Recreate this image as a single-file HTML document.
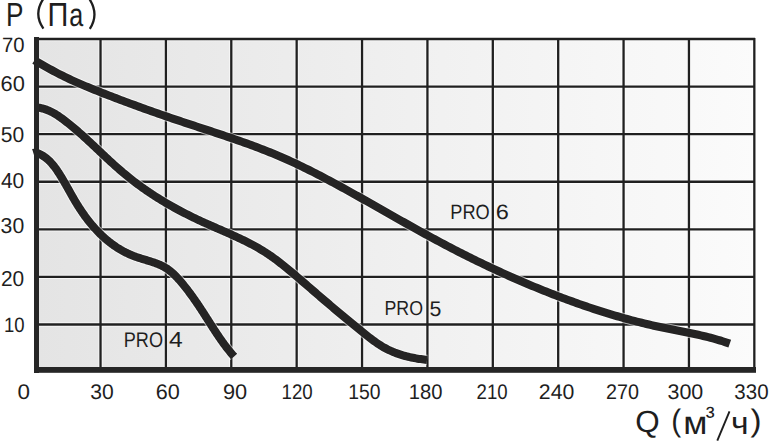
<!DOCTYPE html>
<html><head><meta charset="utf-8"><style>
html,body{margin:0;padding:0;background:#fff;width:769px;height:443px;overflow:hidden}
svg{display:block}
text{font-family:"Liberation Sans",sans-serif;font-size:40px;fill:#1e1e1e;stroke-width:0;text-rendering:geometricPrecision}
</style></head><body>
<svg width="769" height="443" viewBox="0 0 769 443">
<defs><linearGradient id="bg" x1="0" y1="0" x2="1" y2="0">
<stop offset="0" stop-color="#e4e4e4"/><stop offset="1" stop-color="#fbfbfb"/></linearGradient></defs>
<rect x="36" y="39" width="718" height="331" fill="url(#bg)"/>
<g stroke="#fff" stroke-opacity="0.6"><g stroke-width="4.3"><line x1="100.53" y1="38" x2="100.53" y2="370"/><line x1="165.91" y1="38" x2="165.91" y2="370"/><line x1="231.29" y1="38" x2="231.29" y2="370"/><line x1="296.67" y1="38" x2="296.67" y2="370"/><line x1="362.05" y1="38" x2="362.05" y2="370"/><line x1="427.43" y1="38" x2="427.43" y2="370"/><line x1="492.81" y1="38" x2="492.81" y2="370"/><line x1="558.19" y1="38" x2="558.19" y2="370"/><line x1="623.57" y1="38" x2="623.57" y2="370"/><line x1="688.95" y1="38" x2="688.95" y2="370"/><line x1="754.33" y1="38" x2="754.33" y2="370"/></g><g stroke-width="4.3"><line x1="36" y1="39.00" x2="755" y2="39.00"/><line x1="36" y1="86.58" x2="755" y2="86.58"/><line x1="36" y1="134.16" x2="755" y2="134.16"/><line x1="36" y1="181.74" x2="755" y2="181.74"/><line x1="36" y1="229.32" x2="755" y2="229.32"/><line x1="36" y1="276.90" x2="755" y2="276.90"/><line x1="36" y1="324.48" x2="755" y2="324.48"/></g></g>
<g stroke="#202020"><g stroke-width="2.3"><line x1="100.53" y1="38" x2="100.53" y2="370"/><line x1="165.91" y1="38" x2="165.91" y2="370"/><line x1="231.29" y1="38" x2="231.29" y2="370"/><line x1="296.67" y1="38" x2="296.67" y2="370"/><line x1="362.05" y1="38" x2="362.05" y2="370"/><line x1="427.43" y1="38" x2="427.43" y2="370"/><line x1="492.81" y1="38" x2="492.81" y2="370"/><line x1="558.19" y1="38" x2="558.19" y2="370"/><line x1="623.57" y1="38" x2="623.57" y2="370"/><line x1="688.95" y1="38" x2="688.95" y2="370"/><line x1="754.33" y1="38" x2="754.33" y2="370"/></g><g stroke-width="2.3"><line x1="36" y1="39.00" x2="755" y2="39.00"/><line x1="36" y1="86.58" x2="755" y2="86.58"/><line x1="36" y1="134.16" x2="755" y2="134.16"/><line x1="36" y1="181.74" x2="755" y2="181.74"/><line x1="36" y1="229.32" x2="755" y2="229.32"/><line x1="36" y1="276.90" x2="755" y2="276.90"/><line x1="36" y1="324.48" x2="755" y2="324.48"/></g></g>
<g fill="none" stroke="#fff" stroke-opacity="0.6" stroke-width="10.1" stroke-linecap="butt" stroke-linejoin="round">
<path d="M36.07,61.16 L38.25,62.43 L40.43,63.70 L42.62,64.96 L44.80,66.21 L47.00,67.45 L49.19,68.68 L51.40,69.90 L53.61,71.10 L55.83,72.29 L58.05,73.46 L60.29,74.61 L62.53,75.74 L64.79,76.85 L67.05,77.95 L69.32,79.02 L71.60,80.08 L73.89,81.12 L76.18,82.14 L78.48,83.15 L80.79,84.15 L83.10,85.14 L85.41,86.11 L87.74,87.08 L90.06,88.03 L92.39,88.98 L94.72,89.92 L97.06,90.85 L99.39,91.78 L101.73,92.70 L104.07,93.61 L106.41,94.53 L108.76,95.44 L111.10,96.34 L113.45,97.24 L115.80,98.14 L118.14,99.03 L120.50,99.92 L122.85,100.81 L125.20,101.69 L127.56,102.57 L129.91,103.44 L132.27,104.31 L134.63,105.17 L136.99,106.04 L139.35,106.89 L141.72,107.75 L144.08,108.60 L146.45,109.45 L148.82,110.29 L151.19,111.13 L153.56,111.97 L155.93,112.80 L158.31,113.63 L160.69,114.46 L163.06,115.28 L165.44,116.10 L167.82,116.92 L170.20,117.73 L172.59,118.54 L174.97,119.35 L177.36,120.15 L179.74,120.95 L182.13,121.75 L184.52,122.55 L186.92,123.34 L189.31,124.13 L191.70,124.92 L194.10,125.70 L196.49,126.49 L198.88,127.28 L201.28,128.06 L203.67,128.85 L206.07,129.63 L208.46,130.42 L210.86,131.21 L213.25,132.00 L215.64,132.79 L218.04,133.59 L220.43,134.38 L222.82,135.18 L225.20,135.99 L227.59,136.79 L229.97,137.60 L232.36,138.42 L234.74,139.24 L237.12,140.07 L239.49,140.90 L241.87,141.73 L244.24,142.58 L246.60,143.43 L248.97,144.29 L251.33,145.15 L253.69,146.02 L256.04,146.90 L258.39,147.79 L260.74,148.69 L263.09,149.60 L265.42,150.51 L267.76,151.44 L270.09,152.38 L272.42,153.32 L274.74,154.28 L277.05,155.25 L279.36,156.23 L281.67,157.23 L283.97,158.23 L286.27,159.25 L288.56,160.28 L290.84,161.32 L293.12,162.37 L295.40,163.43 L297.67,164.50 L299.94,165.58 L302.20,166.67 L304.46,167.77 L306.72,168.88 L308.97,170.00 L311.21,171.12 L313.46,172.26 L315.70,173.40 L317.94,174.55 L320.17,175.70 L322.40,176.87 L324.63,178.04 L326.85,179.21 L329.07,180.39 L331.29,181.58 L333.51,182.77 L335.72,183.97 L337.93,185.17 L340.14,186.38 L342.35,187.59 L344.55,188.81 L346.76,190.02 L348.96,191.25 L351.16,192.47 L353.35,193.70 L355.55,194.93 L357.75,196.16 L359.94,197.39 L362.13,198.63 L364.33,199.86 L366.52,201.10 L368.71,202.34 L370.90,203.58 L373.09,204.82 L375.28,206.06 L377.47,207.30 L379.66,208.54 L381.84,209.78 L384.03,211.02 L386.22,212.26 L388.41,213.50 L390.60,214.73 L392.79,215.97 L394.97,217.21 L397.16,218.45 L399.35,219.68 L401.54,220.91 L403.74,222.15 L405.93,223.38 L408.12,224.61 L410.32,225.83 L412.51,227.06 L414.71,228.28 L416.91,229.50 L419.11,230.72 L421.31,231.93 L423.51,233.14 L425.71,234.35 L427.92,235.56 L430.13,236.76 L432.34,237.96 L434.55,239.16 L436.76,240.35 L438.98,241.54 L441.20,242.72 L443.42,243.90 L445.64,245.08 L447.87,246.25 L450.10,247.42 L452.33,248.58 L454.56,249.73 L456.80,250.89 L459.04,252.03 L461.28,253.18 L463.53,254.31 L465.78,255.45 L468.03,256.57 L470.28,257.69 L472.54,258.81 L474.80,259.92 L477.06,261.03 L479.33,262.13 L481.60,263.23 L483.87,264.32 L486.14,265.40 L488.42,266.48 L490.70,267.55 L492.98,268.62 L495.26,269.69 L497.55,270.74 L499.84,271.80 L502.13,272.84 L504.43,273.88 L506.72,274.92 L509.02,275.95 L511.32,276.97 L513.63,277.99 L515.94,279.00 L518.25,280.00 L520.56,281.00 L522.87,282.00 L525.19,282.98 L527.51,283.97 L529.83,284.94 L532.15,285.91 L534.48,286.87 L536.81,287.83 L539.14,288.78 L541.47,289.73 L543.81,290.67 L546.15,291.60 L548.49,292.52 L550.83,293.44 L553.17,294.36 L555.52,295.26 L557.87,296.16 L560.22,297.06 L562.57,297.94 L564.93,298.82 L567.29,299.70 L569.65,300.56 L572.01,301.42 L574.38,302.27 L576.74,303.12 L579.11,303.95 L581.48,304.78 L583.86,305.61 L586.24,306.42 L588.61,307.23 L591.00,308.03 L593.38,308.82 L595.77,309.60 L598.16,310.38 L600.55,311.14 L602.94,311.90 L605.34,312.65 L607.74,313.39 L610.14,314.12 L612.55,314.84 L614.96,315.56 L617.37,316.26 L619.78,316.96 L622.20,317.65 L624.61,318.32 L627.04,318.99 L629.46,319.65 L631.89,320.30 L634.32,320.94 L636.75,321.57 L639.19,322.18 L641.63,322.79 L644.07,323.39 L646.52,323.98 L648.97,324.56 L651.42,325.13 L653.87,325.68 L656.33,326.23 L658.79,326.76 L661.25,327.29 L663.72,327.80 L666.19,328.31 L668.66,328.81 L671.14,329.30 L673.61,329.79 L676.08,330.28 L678.56,330.76 L681.03,331.25 L683.51,331.74 L685.98,332.24 L688.45,332.74 L690.92,333.25 L693.39,333.76 L695.85,334.29 L698.31,334.83 L700.77,335.39 L703.22,335.96 L705.67,336.54 L708.11,337.15 L710.54,337.77 L712.97,338.42 L715.40,339.09 L717.81,339.78 L720.22,340.50 L722.62,341.25 L725.02,342.03 L727.40,342.84 L729.77,343.68"/><path d="M35.95,107.44 L37.63,107.59 L39.27,107.81 L40.87,108.10 L42.44,108.46 L43.98,108.88 L45.49,109.35 L46.97,109.88 L48.42,110.47 L49.84,111.10 L51.24,111.78 L52.62,112.50 L53.98,113.26 L55.32,114.05 L56.64,114.87 L57.95,115.72 L59.24,116.60 L60.52,117.50 L61.79,118.41 L63.05,119.34 L64.30,120.28 L65.54,121.23 L66.78,122.19 L68.01,123.16 L69.24,124.13 L70.46,125.12 L71.67,126.11 L72.88,127.11 L74.09,128.11 L75.28,129.13 L76.48,130.15 L77.67,131.18 L78.85,132.21 L80.03,133.25 L81.21,134.29 L82.39,135.34 L83.56,136.39 L84.72,137.45 L85.89,138.51 L87.05,139.58 L88.21,140.64 L89.37,141.72 L90.53,142.79 L91.68,143.87 L92.83,144.95 L93.99,146.03 L95.14,147.11 L96.29,148.19 L97.44,149.28 L98.59,150.36 L99.74,151.45 L100.89,152.53 L102.04,153.62 L103.19,154.70 L104.34,155.78 L105.50,156.86 L106.65,157.94 L107.81,159.02 L108.97,160.10 L110.13,161.17 L111.29,162.24 L112.46,163.30 L113.63,164.37 L114.80,165.42 L115.98,166.48 L117.16,167.53 L118.34,168.57 L119.53,169.61 L120.72,170.65 L121.92,171.67 L123.12,172.70 L124.33,173.71 L125.54,174.72 L126.76,175.72 L127.98,176.72 L129.21,177.70 L130.44,178.68 L131.68,179.66 L132.92,180.63 L134.17,181.59 L135.43,182.54 L136.68,183.48 L137.95,184.42 L139.22,185.36 L140.49,186.28 L141.77,187.20 L143.05,188.12 L144.34,189.02 L145.63,189.92 L146.93,190.81 L148.23,191.70 L149.54,192.58 L150.85,193.46 L152.16,194.32 L153.48,195.18 L154.81,196.04 L156.13,196.89 L157.46,197.73 L158.80,198.56 L160.14,199.39 L161.48,200.22 L162.83,201.03 L164.18,201.85 L165.54,202.65 L166.90,203.45 L168.26,204.24 L169.62,205.03 L170.99,205.81 L172.37,206.59 L173.74,207.36 L175.12,208.12 L176.50,208.88 L177.89,209.63 L179.28,210.38 L180.67,211.12 L182.07,211.85 L183.47,212.58 L184.87,213.30 L186.27,214.02 L187.68,214.73 L189.09,215.44 L190.50,216.14 L191.92,216.84 L193.34,217.53 L194.76,218.22 L196.18,218.90 L197.61,219.57 L199.04,220.24 L200.47,220.90 L201.90,221.56 L203.33,222.22 L204.77,222.87 L206.21,223.51 L207.65,224.15 L209.09,224.79 L210.53,225.43 L211.97,226.06 L213.42,226.70 L214.86,227.33 L216.31,227.96 L217.75,228.59 L219.20,229.22 L220.64,229.84 L222.08,230.47 L223.53,231.11 L224.97,231.74 L226.41,232.37 L227.85,233.01 L229.29,233.65 L230.73,234.29 L232.16,234.93 L233.60,235.58 L235.03,236.23 L236.46,236.89 L237.88,237.55 L239.31,238.22 L240.73,238.90 L242.14,239.58 L243.56,240.26 L244.97,240.96 L246.37,241.66 L247.78,242.37 L249.18,243.09 L250.57,243.81 L251.96,244.55 L253.34,245.29 L254.72,246.05 L256.10,246.81 L257.47,247.58 L258.83,248.37 L260.19,249.16 L261.54,249.97 L262.88,250.79 L264.22,251.61 L265.54,252.45 L266.86,253.31 L268.18,254.17 L269.48,255.05 L270.78,255.94 L272.06,256.84 L273.34,257.75 L274.61,258.68 L275.87,259.62 L277.12,260.57 L278.37,261.52 L279.61,262.49 L280.85,263.46 L282.08,264.44 L283.31,265.43 L284.53,266.42 L285.76,267.41 L286.98,268.41 L288.19,269.41 L289.41,270.41 L290.62,271.41 L291.83,272.42 L293.04,273.43 L294.25,274.45 L295.45,275.46 L296.66,276.48 L297.86,277.50 L299.06,278.52 L300.26,279.55 L301.46,280.57 L302.66,281.60 L303.85,282.63 L305.05,283.65 L306.25,284.68 L307.44,285.71 L308.64,286.74 L309.83,287.78 L311.02,288.81 L312.22,289.84 L313.41,290.87 L314.60,291.90 L315.80,292.93 L316.99,293.96 L318.19,294.99 L319.38,296.02 L320.58,297.04 L321.78,298.07 L322.97,299.09 L324.17,300.12 L325.37,301.14 L326.57,302.17 L327.77,303.19 L328.97,304.21 L330.17,305.23 L331.37,306.25 L332.57,307.27 L333.78,308.28 L334.98,309.30 L336.19,310.32 L337.39,311.33 L338.60,312.34 L339.81,313.36 L341.02,314.37 L342.23,315.38 L343.44,316.39 L344.65,317.40 L345.86,318.41 L347.08,319.42 L348.29,320.43 L349.51,321.43 L350.72,322.44 L351.94,323.44 L353.16,324.45 L354.38,325.45 L355.60,326.45 L356.83,327.45 L358.05,328.45 L359.28,329.45 L360.50,330.45 L361.73,331.45 L362.96,332.45 L364.19,333.44 L365.42,334.43 L366.66,335.42 L367.90,336.40 L369.15,337.37 L370.40,338.33 L371.66,339.29 L372.92,340.23 L374.20,341.15 L375.48,342.06 L376.77,342.96 L378.07,343.84 L379.38,344.69 L380.70,345.53 L382.04,346.35 L383.39,347.14 L384.75,347.90 L386.13,348.64 L387.52,349.36 L388.92,350.04 L390.34,350.70 L391.77,351.34 L393.22,351.95 L394.67,352.54 L396.14,353.10 L397.61,353.63 L399.10,354.15 L400.60,354.64 L402.10,355.11 L403.62,355.55 L405.14,355.98 L406.67,356.38 L408.21,356.76 L409.75,357.12 L411.31,357.47 L412.86,357.79 L414.42,358.09 L415.99,358.37 L417.56,358.64 L419.13,358.88 L420.71,359.11 L422.28,359.32 L423.86,359.52 L425.44,359.70 L427.03,359.86"/><path d="M36.05,152.68 L37.01,153.01 L37.96,153.36 L38.88,153.73 L39.78,154.14 L40.66,154.57 L41.52,155.03 L42.37,155.51 L43.19,156.01 L44.00,156.54 L44.79,157.09 L45.56,157.66 L46.32,158.25 L47.06,158.85 L47.79,159.48 L48.50,160.13 L49.19,160.79 L49.88,161.47 L50.55,162.16 L51.20,162.87 L51.85,163.59 L52.48,164.33 L53.10,165.08 L53.71,165.84 L54.32,166.61 L54.91,167.39 L55.49,168.17 L56.06,168.97 L56.63,169.77 L57.18,170.58 L57.73,171.40 L58.28,172.22 L58.81,173.05 L59.35,173.87 L59.87,174.70 L60.39,175.54 L60.91,176.37 L61.42,177.21 L61.93,178.05 L62.43,178.89 L62.93,179.73 L63.43,180.58 L63.93,181.43 L64.42,182.27 L64.91,183.12 L65.39,183.97 L65.88,184.82 L66.36,185.68 L66.84,186.53 L67.32,187.38 L67.80,188.23 L68.28,189.09 L68.76,189.94 L69.24,190.80 L69.71,191.65 L70.19,192.50 L70.67,193.36 L71.15,194.21 L71.63,195.06 L72.12,195.91 L72.60,196.76 L73.09,197.61 L73.58,198.46 L74.07,199.30 L74.56,200.15 L75.06,200.99 L75.56,201.83 L76.07,202.67 L76.58,203.51 L77.09,204.35 L77.60,205.18 L78.13,206.01 L78.65,206.84 L79.18,207.66 L79.71,208.49 L80.25,209.31 L80.79,210.12 L81.34,210.94 L81.89,211.75 L82.44,212.56 L83.00,213.37 L83.57,214.17 L84.14,214.97 L84.71,215.76 L85.28,216.55 L85.87,217.34 L86.45,218.13 L87.04,218.91 L87.64,219.68 L88.24,220.45 L88.84,221.22 L89.45,221.99 L90.06,222.75 L90.68,223.50 L91.30,224.25 L91.93,225.00 L92.56,225.74 L93.20,226.48 L93.84,227.21 L94.49,227.94 L95.14,228.66 L95.80,229.38 L96.46,230.09 L97.12,230.79 L97.79,231.50 L98.47,232.19 L99.15,232.88 L99.84,233.57 L100.53,234.24 L101.22,234.92 L101.92,235.58 L102.63,236.24 L103.34,236.90 L104.06,237.55 L104.78,238.19 L105.51,238.82 L106.24,239.45 L106.97,240.07 L107.72,240.69 L108.46,241.30 L109.22,241.90 L109.97,242.49 L110.74,243.08 L111.51,243.66 L112.28,244.23 L113.06,244.80 L113.84,245.36 L114.63,245.91 L115.43,246.45 L116.23,246.99 L117.04,247.52 L117.85,248.04 L118.67,248.55 L119.49,249.05 L120.32,249.55 L121.16,250.03 L122.00,250.51 L122.84,250.98 L123.69,251.44 L124.55,251.90 L125.41,252.34 L126.28,252.78 L127.16,253.20 L128.04,253.62 L128.92,254.03 L129.82,254.43 L130.71,254.82 L131.62,255.20 L132.53,255.57 L133.44,255.93 L134.37,256.28 L135.29,256.62 L136.23,256.95 L137.17,257.28 L138.11,257.59 L139.06,257.90 L140.01,258.21 L140.96,258.51 L141.92,258.80 L142.87,259.10 L143.83,259.39 L144.79,259.67 L145.75,259.96 L146.71,260.25 L147.67,260.54 L148.63,260.83 L149.58,261.13 L150.53,261.42 L151.48,261.73 L152.43,262.03 L153.37,262.35 L154.31,262.67 L155.24,263.00 L156.16,263.34 L157.08,263.69 L157.99,264.05 L158.89,264.42 L159.79,264.81 L160.68,265.20 L161.56,265.61 L162.42,266.04 L163.28,266.48 L164.13,266.94 L164.96,267.42 L165.79,267.92 L166.60,268.43 L167.40,268.97 L168.18,269.52 L168.96,270.09 L169.72,270.68 L170.48,271.28 L171.22,271.90 L171.95,272.53 L172.68,273.17 L173.39,273.83 L174.10,274.50 L174.80,275.18 L175.49,275.88 L176.17,276.58 L176.85,277.29 L177.52,278.00 L178.18,278.73 L178.84,279.46 L179.49,280.20 L180.14,280.94 L180.78,281.69 L181.42,282.44 L182.05,283.19 L182.68,283.94 L183.31,284.70 L183.93,285.46 L184.55,286.23 L185.16,287.00 L185.78,287.77 L186.38,288.54 L186.99,289.32 L187.59,290.09 L188.19,290.87 L188.78,291.66 L189.37,292.44 L189.96,293.23 L190.54,294.02 L191.13,294.81 L191.70,295.61 L192.28,296.40 L192.85,297.20 L193.42,298.00 L193.99,298.80 L194.55,299.61 L195.12,300.41 L195.67,301.22 L196.23,302.03 L196.79,302.84 L197.34,303.65 L197.89,304.46 L198.43,305.27 L198.98,306.09 L199.52,306.90 L200.06,307.72 L200.60,308.54 L201.14,309.36 L201.68,310.18 L202.21,311.00 L202.74,311.82 L203.27,312.64 L203.80,313.46 L204.33,314.29 L204.86,315.11 L205.39,315.93 L205.91,316.76 L206.44,317.58 L206.96,318.40 L207.48,319.23 L208.01,320.05 L208.53,320.88 L209.05,321.70 L209.58,322.52 L210.10,323.35 L210.63,324.17 L211.15,324.99 L211.68,325.81 L212.20,326.63 L212.73,327.45 L213.26,328.27 L213.79,329.09 L214.32,329.90 L214.85,330.72 L215.38,331.53 L215.92,332.35 L216.46,333.16 L217.00,333.97 L217.54,334.78 L218.08,335.59 L218.63,336.39 L219.18,337.20 L219.73,338.00 L220.29,338.80 L220.84,339.60 L221.40,340.40 L221.97,341.19 L222.53,341.98 L223.11,342.77 L223.68,343.56 L224.26,344.35 L224.84,345.13 L225.43,345.91 L226.02,346.69 L226.61,347.47 L227.21,348.24 L227.81,349.01 L228.42,349.77 L229.04,350.54 L229.65,351.30 L230.28,352.06 L230.91,352.81 L231.54,353.56 L232.18,354.31 L232.82,355.05 L233.48,355.80 L234.13,356.53"/>
</g>
<g fill="none" stroke="#252424" stroke-width="8.1" stroke-linecap="butt" stroke-linejoin="round">
<path d="M36.07,61.16 L38.25,62.43 L40.43,63.70 L42.62,64.96 L44.80,66.21 L47.00,67.45 L49.19,68.68 L51.40,69.90 L53.61,71.10 L55.83,72.29 L58.05,73.46 L60.29,74.61 L62.53,75.74 L64.79,76.85 L67.05,77.95 L69.32,79.02 L71.60,80.08 L73.89,81.12 L76.18,82.14 L78.48,83.15 L80.79,84.15 L83.10,85.14 L85.41,86.11 L87.74,87.08 L90.06,88.03 L92.39,88.98 L94.72,89.92 L97.06,90.85 L99.39,91.78 L101.73,92.70 L104.07,93.61 L106.41,94.53 L108.76,95.44 L111.10,96.34 L113.45,97.24 L115.80,98.14 L118.14,99.03 L120.50,99.92 L122.85,100.81 L125.20,101.69 L127.56,102.57 L129.91,103.44 L132.27,104.31 L134.63,105.17 L136.99,106.04 L139.35,106.89 L141.72,107.75 L144.08,108.60 L146.45,109.45 L148.82,110.29 L151.19,111.13 L153.56,111.97 L155.93,112.80 L158.31,113.63 L160.69,114.46 L163.06,115.28 L165.44,116.10 L167.82,116.92 L170.20,117.73 L172.59,118.54 L174.97,119.35 L177.36,120.15 L179.74,120.95 L182.13,121.75 L184.52,122.55 L186.92,123.34 L189.31,124.13 L191.70,124.92 L194.10,125.70 L196.49,126.49 L198.88,127.28 L201.28,128.06 L203.67,128.85 L206.07,129.63 L208.46,130.42 L210.86,131.21 L213.25,132.00 L215.64,132.79 L218.04,133.59 L220.43,134.38 L222.82,135.18 L225.20,135.99 L227.59,136.79 L229.97,137.60 L232.36,138.42 L234.74,139.24 L237.12,140.07 L239.49,140.90 L241.87,141.73 L244.24,142.58 L246.60,143.43 L248.97,144.29 L251.33,145.15 L253.69,146.02 L256.04,146.90 L258.39,147.79 L260.74,148.69 L263.09,149.60 L265.42,150.51 L267.76,151.44 L270.09,152.38 L272.42,153.32 L274.74,154.28 L277.05,155.25 L279.36,156.23 L281.67,157.23 L283.97,158.23 L286.27,159.25 L288.56,160.28 L290.84,161.32 L293.12,162.37 L295.40,163.43 L297.67,164.50 L299.94,165.58 L302.20,166.67 L304.46,167.77 L306.72,168.88 L308.97,170.00 L311.21,171.12 L313.46,172.26 L315.70,173.40 L317.94,174.55 L320.17,175.70 L322.40,176.87 L324.63,178.04 L326.85,179.21 L329.07,180.39 L331.29,181.58 L333.51,182.77 L335.72,183.97 L337.93,185.17 L340.14,186.38 L342.35,187.59 L344.55,188.81 L346.76,190.02 L348.96,191.25 L351.16,192.47 L353.35,193.70 L355.55,194.93 L357.75,196.16 L359.94,197.39 L362.13,198.63 L364.33,199.86 L366.52,201.10 L368.71,202.34 L370.90,203.58 L373.09,204.82 L375.28,206.06 L377.47,207.30 L379.66,208.54 L381.84,209.78 L384.03,211.02 L386.22,212.26 L388.41,213.50 L390.60,214.73 L392.79,215.97 L394.97,217.21 L397.16,218.45 L399.35,219.68 L401.54,220.91 L403.74,222.15 L405.93,223.38 L408.12,224.61 L410.32,225.83 L412.51,227.06 L414.71,228.28 L416.91,229.50 L419.11,230.72 L421.31,231.93 L423.51,233.14 L425.71,234.35 L427.92,235.56 L430.13,236.76 L432.34,237.96 L434.55,239.16 L436.76,240.35 L438.98,241.54 L441.20,242.72 L443.42,243.90 L445.64,245.08 L447.87,246.25 L450.10,247.42 L452.33,248.58 L454.56,249.73 L456.80,250.89 L459.04,252.03 L461.28,253.18 L463.53,254.31 L465.78,255.45 L468.03,256.57 L470.28,257.69 L472.54,258.81 L474.80,259.92 L477.06,261.03 L479.33,262.13 L481.60,263.23 L483.87,264.32 L486.14,265.40 L488.42,266.48 L490.70,267.55 L492.98,268.62 L495.26,269.69 L497.55,270.74 L499.84,271.80 L502.13,272.84 L504.43,273.88 L506.72,274.92 L509.02,275.95 L511.32,276.97 L513.63,277.99 L515.94,279.00 L518.25,280.00 L520.56,281.00 L522.87,282.00 L525.19,282.98 L527.51,283.97 L529.83,284.94 L532.15,285.91 L534.48,286.87 L536.81,287.83 L539.14,288.78 L541.47,289.73 L543.81,290.67 L546.15,291.60 L548.49,292.52 L550.83,293.44 L553.17,294.36 L555.52,295.26 L557.87,296.16 L560.22,297.06 L562.57,297.94 L564.93,298.82 L567.29,299.70 L569.65,300.56 L572.01,301.42 L574.38,302.27 L576.74,303.12 L579.11,303.95 L581.48,304.78 L583.86,305.61 L586.24,306.42 L588.61,307.23 L591.00,308.03 L593.38,308.82 L595.77,309.60 L598.16,310.38 L600.55,311.14 L602.94,311.90 L605.34,312.65 L607.74,313.39 L610.14,314.12 L612.55,314.84 L614.96,315.56 L617.37,316.26 L619.78,316.96 L622.20,317.65 L624.61,318.32 L627.04,318.99 L629.46,319.65 L631.89,320.30 L634.32,320.94 L636.75,321.57 L639.19,322.18 L641.63,322.79 L644.07,323.39 L646.52,323.98 L648.97,324.56 L651.42,325.13 L653.87,325.68 L656.33,326.23 L658.79,326.76 L661.25,327.29 L663.72,327.80 L666.19,328.31 L668.66,328.81 L671.14,329.30 L673.61,329.79 L676.08,330.28 L678.56,330.76 L681.03,331.25 L683.51,331.74 L685.98,332.24 L688.45,332.74 L690.92,333.25 L693.39,333.76 L695.85,334.29 L698.31,334.83 L700.77,335.39 L703.22,335.96 L705.67,336.54 L708.11,337.15 L710.54,337.77 L712.97,338.42 L715.40,339.09 L717.81,339.78 L720.22,340.50 L722.62,341.25 L725.02,342.03 L727.40,342.84 L729.77,343.68"/><path d="M35.95,107.44 L37.63,107.59 L39.27,107.81 L40.87,108.10 L42.44,108.46 L43.98,108.88 L45.49,109.35 L46.97,109.88 L48.42,110.47 L49.84,111.10 L51.24,111.78 L52.62,112.50 L53.98,113.26 L55.32,114.05 L56.64,114.87 L57.95,115.72 L59.24,116.60 L60.52,117.50 L61.79,118.41 L63.05,119.34 L64.30,120.28 L65.54,121.23 L66.78,122.19 L68.01,123.16 L69.24,124.13 L70.46,125.12 L71.67,126.11 L72.88,127.11 L74.09,128.11 L75.28,129.13 L76.48,130.15 L77.67,131.18 L78.85,132.21 L80.03,133.25 L81.21,134.29 L82.39,135.34 L83.56,136.39 L84.72,137.45 L85.89,138.51 L87.05,139.58 L88.21,140.64 L89.37,141.72 L90.53,142.79 L91.68,143.87 L92.83,144.95 L93.99,146.03 L95.14,147.11 L96.29,148.19 L97.44,149.28 L98.59,150.36 L99.74,151.45 L100.89,152.53 L102.04,153.62 L103.19,154.70 L104.34,155.78 L105.50,156.86 L106.65,157.94 L107.81,159.02 L108.97,160.10 L110.13,161.17 L111.29,162.24 L112.46,163.30 L113.63,164.37 L114.80,165.42 L115.98,166.48 L117.16,167.53 L118.34,168.57 L119.53,169.61 L120.72,170.65 L121.92,171.67 L123.12,172.70 L124.33,173.71 L125.54,174.72 L126.76,175.72 L127.98,176.72 L129.21,177.70 L130.44,178.68 L131.68,179.66 L132.92,180.63 L134.17,181.59 L135.43,182.54 L136.68,183.48 L137.95,184.42 L139.22,185.36 L140.49,186.28 L141.77,187.20 L143.05,188.12 L144.34,189.02 L145.63,189.92 L146.93,190.81 L148.23,191.70 L149.54,192.58 L150.85,193.46 L152.16,194.32 L153.48,195.18 L154.81,196.04 L156.13,196.89 L157.46,197.73 L158.80,198.56 L160.14,199.39 L161.48,200.22 L162.83,201.03 L164.18,201.85 L165.54,202.65 L166.90,203.45 L168.26,204.24 L169.62,205.03 L170.99,205.81 L172.37,206.59 L173.74,207.36 L175.12,208.12 L176.50,208.88 L177.89,209.63 L179.28,210.38 L180.67,211.12 L182.07,211.85 L183.47,212.58 L184.87,213.30 L186.27,214.02 L187.68,214.73 L189.09,215.44 L190.50,216.14 L191.92,216.84 L193.34,217.53 L194.76,218.22 L196.18,218.90 L197.61,219.57 L199.04,220.24 L200.47,220.90 L201.90,221.56 L203.33,222.22 L204.77,222.87 L206.21,223.51 L207.65,224.15 L209.09,224.79 L210.53,225.43 L211.97,226.06 L213.42,226.70 L214.86,227.33 L216.31,227.96 L217.75,228.59 L219.20,229.22 L220.64,229.84 L222.08,230.47 L223.53,231.11 L224.97,231.74 L226.41,232.37 L227.85,233.01 L229.29,233.65 L230.73,234.29 L232.16,234.93 L233.60,235.58 L235.03,236.23 L236.46,236.89 L237.88,237.55 L239.31,238.22 L240.73,238.90 L242.14,239.58 L243.56,240.26 L244.97,240.96 L246.37,241.66 L247.78,242.37 L249.18,243.09 L250.57,243.81 L251.96,244.55 L253.34,245.29 L254.72,246.05 L256.10,246.81 L257.47,247.58 L258.83,248.37 L260.19,249.16 L261.54,249.97 L262.88,250.79 L264.22,251.61 L265.54,252.45 L266.86,253.31 L268.18,254.17 L269.48,255.05 L270.78,255.94 L272.06,256.84 L273.34,257.75 L274.61,258.68 L275.87,259.62 L277.12,260.57 L278.37,261.52 L279.61,262.49 L280.85,263.46 L282.08,264.44 L283.31,265.43 L284.53,266.42 L285.76,267.41 L286.98,268.41 L288.19,269.41 L289.41,270.41 L290.62,271.41 L291.83,272.42 L293.04,273.43 L294.25,274.45 L295.45,275.46 L296.66,276.48 L297.86,277.50 L299.06,278.52 L300.26,279.55 L301.46,280.57 L302.66,281.60 L303.85,282.63 L305.05,283.65 L306.25,284.68 L307.44,285.71 L308.64,286.74 L309.83,287.78 L311.02,288.81 L312.22,289.84 L313.41,290.87 L314.60,291.90 L315.80,292.93 L316.99,293.96 L318.19,294.99 L319.38,296.02 L320.58,297.04 L321.78,298.07 L322.97,299.09 L324.17,300.12 L325.37,301.14 L326.57,302.17 L327.77,303.19 L328.97,304.21 L330.17,305.23 L331.37,306.25 L332.57,307.27 L333.78,308.28 L334.98,309.30 L336.19,310.32 L337.39,311.33 L338.60,312.34 L339.81,313.36 L341.02,314.37 L342.23,315.38 L343.44,316.39 L344.65,317.40 L345.86,318.41 L347.08,319.42 L348.29,320.43 L349.51,321.43 L350.72,322.44 L351.94,323.44 L353.16,324.45 L354.38,325.45 L355.60,326.45 L356.83,327.45 L358.05,328.45 L359.28,329.45 L360.50,330.45 L361.73,331.45 L362.96,332.45 L364.19,333.44 L365.42,334.43 L366.66,335.42 L367.90,336.40 L369.15,337.37 L370.40,338.33 L371.66,339.29 L372.92,340.23 L374.20,341.15 L375.48,342.06 L376.77,342.96 L378.07,343.84 L379.38,344.69 L380.70,345.53 L382.04,346.35 L383.39,347.14 L384.75,347.90 L386.13,348.64 L387.52,349.36 L388.92,350.04 L390.34,350.70 L391.77,351.34 L393.22,351.95 L394.67,352.54 L396.14,353.10 L397.61,353.63 L399.10,354.15 L400.60,354.64 L402.10,355.11 L403.62,355.55 L405.14,355.98 L406.67,356.38 L408.21,356.76 L409.75,357.12 L411.31,357.47 L412.86,357.79 L414.42,358.09 L415.99,358.37 L417.56,358.64 L419.13,358.88 L420.71,359.11 L422.28,359.32 L423.86,359.52 L425.44,359.70 L427.03,359.86"/><path d="M36.05,152.68 L37.01,153.01 L37.96,153.36 L38.88,153.73 L39.78,154.14 L40.66,154.57 L41.52,155.03 L42.37,155.51 L43.19,156.01 L44.00,156.54 L44.79,157.09 L45.56,157.66 L46.32,158.25 L47.06,158.85 L47.79,159.48 L48.50,160.13 L49.19,160.79 L49.88,161.47 L50.55,162.16 L51.20,162.87 L51.85,163.59 L52.48,164.33 L53.10,165.08 L53.71,165.84 L54.32,166.61 L54.91,167.39 L55.49,168.17 L56.06,168.97 L56.63,169.77 L57.18,170.58 L57.73,171.40 L58.28,172.22 L58.81,173.05 L59.35,173.87 L59.87,174.70 L60.39,175.54 L60.91,176.37 L61.42,177.21 L61.93,178.05 L62.43,178.89 L62.93,179.73 L63.43,180.58 L63.93,181.43 L64.42,182.27 L64.91,183.12 L65.39,183.97 L65.88,184.82 L66.36,185.68 L66.84,186.53 L67.32,187.38 L67.80,188.23 L68.28,189.09 L68.76,189.94 L69.24,190.80 L69.71,191.65 L70.19,192.50 L70.67,193.36 L71.15,194.21 L71.63,195.06 L72.12,195.91 L72.60,196.76 L73.09,197.61 L73.58,198.46 L74.07,199.30 L74.56,200.15 L75.06,200.99 L75.56,201.83 L76.07,202.67 L76.58,203.51 L77.09,204.35 L77.60,205.18 L78.13,206.01 L78.65,206.84 L79.18,207.66 L79.71,208.49 L80.25,209.31 L80.79,210.12 L81.34,210.94 L81.89,211.75 L82.44,212.56 L83.00,213.37 L83.57,214.17 L84.14,214.97 L84.71,215.76 L85.28,216.55 L85.87,217.34 L86.45,218.13 L87.04,218.91 L87.64,219.68 L88.24,220.45 L88.84,221.22 L89.45,221.99 L90.06,222.75 L90.68,223.50 L91.30,224.25 L91.93,225.00 L92.56,225.74 L93.20,226.48 L93.84,227.21 L94.49,227.94 L95.14,228.66 L95.80,229.38 L96.46,230.09 L97.12,230.79 L97.79,231.50 L98.47,232.19 L99.15,232.88 L99.84,233.57 L100.53,234.24 L101.22,234.92 L101.92,235.58 L102.63,236.24 L103.34,236.90 L104.06,237.55 L104.78,238.19 L105.51,238.82 L106.24,239.45 L106.97,240.07 L107.72,240.69 L108.46,241.30 L109.22,241.90 L109.97,242.49 L110.74,243.08 L111.51,243.66 L112.28,244.23 L113.06,244.80 L113.84,245.36 L114.63,245.91 L115.43,246.45 L116.23,246.99 L117.04,247.52 L117.85,248.04 L118.67,248.55 L119.49,249.05 L120.32,249.55 L121.16,250.03 L122.00,250.51 L122.84,250.98 L123.69,251.44 L124.55,251.90 L125.41,252.34 L126.28,252.78 L127.16,253.20 L128.04,253.62 L128.92,254.03 L129.82,254.43 L130.71,254.82 L131.62,255.20 L132.53,255.57 L133.44,255.93 L134.37,256.28 L135.29,256.62 L136.23,256.95 L137.17,257.28 L138.11,257.59 L139.06,257.90 L140.01,258.21 L140.96,258.51 L141.92,258.80 L142.87,259.10 L143.83,259.39 L144.79,259.67 L145.75,259.96 L146.71,260.25 L147.67,260.54 L148.63,260.83 L149.58,261.13 L150.53,261.42 L151.48,261.73 L152.43,262.03 L153.37,262.35 L154.31,262.67 L155.24,263.00 L156.16,263.34 L157.08,263.69 L157.99,264.05 L158.89,264.42 L159.79,264.81 L160.68,265.20 L161.56,265.61 L162.42,266.04 L163.28,266.48 L164.13,266.94 L164.96,267.42 L165.79,267.92 L166.60,268.43 L167.40,268.97 L168.18,269.52 L168.96,270.09 L169.72,270.68 L170.48,271.28 L171.22,271.90 L171.95,272.53 L172.68,273.17 L173.39,273.83 L174.10,274.50 L174.80,275.18 L175.49,275.88 L176.17,276.58 L176.85,277.29 L177.52,278.00 L178.18,278.73 L178.84,279.46 L179.49,280.20 L180.14,280.94 L180.78,281.69 L181.42,282.44 L182.05,283.19 L182.68,283.94 L183.31,284.70 L183.93,285.46 L184.55,286.23 L185.16,287.00 L185.78,287.77 L186.38,288.54 L186.99,289.32 L187.59,290.09 L188.19,290.87 L188.78,291.66 L189.37,292.44 L189.96,293.23 L190.54,294.02 L191.13,294.81 L191.70,295.61 L192.28,296.40 L192.85,297.20 L193.42,298.00 L193.99,298.80 L194.55,299.61 L195.12,300.41 L195.67,301.22 L196.23,302.03 L196.79,302.84 L197.34,303.65 L197.89,304.46 L198.43,305.27 L198.98,306.09 L199.52,306.90 L200.06,307.72 L200.60,308.54 L201.14,309.36 L201.68,310.18 L202.21,311.00 L202.74,311.82 L203.27,312.64 L203.80,313.46 L204.33,314.29 L204.86,315.11 L205.39,315.93 L205.91,316.76 L206.44,317.58 L206.96,318.40 L207.48,319.23 L208.01,320.05 L208.53,320.88 L209.05,321.70 L209.58,322.52 L210.10,323.35 L210.63,324.17 L211.15,324.99 L211.68,325.81 L212.20,326.63 L212.73,327.45 L213.26,328.27 L213.79,329.09 L214.32,329.90 L214.85,330.72 L215.38,331.53 L215.92,332.35 L216.46,333.16 L217.00,333.97 L217.54,334.78 L218.08,335.59 L218.63,336.39 L219.18,337.20 L219.73,338.00 L220.29,338.80 L220.84,339.60 L221.40,340.40 L221.97,341.19 L222.53,341.98 L223.11,342.77 L223.68,343.56 L224.26,344.35 L224.84,345.13 L225.43,345.91 L226.02,346.69 L226.61,347.47 L227.21,348.24 L227.81,349.01 L228.42,349.77 L229.04,350.54 L229.65,351.30 L230.28,352.06 L230.91,352.81 L231.54,353.56 L232.18,354.31 L232.82,355.05 L233.48,355.80 L234.13,356.53"/>
</g>
<path d="M34.3,60.8 L32.3,63.4 L34.3,65 Z M34.3,148.8 L32.1,148.9 L34.3,156 Z" fill="#232323"/>
<rect x="34" y="37" width="5" height="336" fill="#262626"/>
<rect x="34" y="367" width="722" height="5.8" fill="#262626"/>
<g><text transform="matrix(0.5073 0 0 0.5204 1.99 51.67)" stroke="#fff">70</text><text transform="matrix(0.5463 0 0 0.5345 0.51 90.77)" stroke="#fff">60</text><text transform="matrix(0.5261 0 0 0.5381 0.78 141.87)" stroke="#fff">50</text><text transform="matrix(0.5238 0 0 0.5416 0.88 187.66)" stroke="#fff">40</text><text transform="matrix(0.5301 0 0 0.5416 0.60 232.76)" stroke="#fff">30</text><text transform="matrix(0.5220 0 0 0.5416 0.96 286.16)" stroke="#fff">20</text><text transform="matrix(0.4625 0 0 0.5204 3.91 331.67)" stroke="#fff">10</text><text transform="matrix(0.5610 0 0 0.5274 17.46 398.67)" stroke="#fff">0</text><text transform="matrix(0.5277 0 0 0.5274 90.21 398.67)" stroke="#fff">30</text><text transform="matrix(0.5415 0 0 0.5274 155.72 398.67)" stroke="#fff">60</text><text transform="matrix(0.5439 0 0 0.5274 222.91 398.67)" stroke="#fff">90</text><text transform="matrix(0.4675 0 0 0.5274 281.50 398.67)" stroke="#fff">120</text><text transform="matrix(0.4835 0 0 0.5274 348.35 398.67)" stroke="#fff">150</text><text transform="matrix(0.5044 0 0 0.5274 408.79 398.67)" stroke="#fff">180</text><text transform="matrix(0.4648 0 0 0.5274 476.57 398.67)" stroke="#fff">210</text><text transform="matrix(0.5312 0 0 0.5274 538.84 398.67)" stroke="#fff">240</text><text transform="matrix(0.4933 0 0 0.5274 606.01 398.67)" stroke="#fff">270</text><text transform="matrix(0.5365 0 0 0.5274 667.50 398.67)" stroke="#fff">300</text><text transform="matrix(0.5129 0 0 0.5274 734.33 398.67)" stroke="#fff">330</text><text transform="matrix(0.4528 0 0 0.5310 123.73 347.17)" stroke="#e8e8e8">PRO</text><text transform="matrix(0.6150 0 0 0.5455 168.98 347.30)" stroke="#e9e9e9">4</text><text transform="matrix(0.4442 0 0 0.5062 384.46 315.37)" stroke="#f0f0f0">PRO</text><text transform="matrix(0.5333 0 0 0.5261 429.57 315.67)" stroke="#f0f0f0">5</text><text transform="matrix(0.4552 0 0 0.5168 450.32 218.67)" stroke="#f2f2f2">PRO</text><text transform="matrix(0.5892 0 0 0.5168 495.72 218.67)" stroke="#f2f2f2">6</text><text transform="matrix(0.6541 0 0 0.8364 5.97 25.90)" stroke="#fff">P</text><text transform="matrix(0.7236 0 0 0.8327 47.55 25.90)" stroke="#fff">П</text><text transform="matrix(0.6293 0 0 0.8138 69.20 26.00)" stroke="#fff">а</text><text transform="matrix(0.7853 0 0 0.7606 635.23 432.30)" stroke="#fff">Q</text><text transform="matrix(0.7429 0 0 0.7758 671.34 431.00)" stroke="#fff">(</text><text transform="matrix(0.8773 0 0 0.8143 683.19 434.00)" stroke="#fff">м</text><text transform="matrix(0.6667 0 0 0.6588 705.87 425.38)" stroke="#fff">³</text><text transform="matrix(0.8452 0 0 0.8000 730.99 434.00)" stroke="#fff">ч</text><text transform="matrix(0.8286 0 0 0.7758 750.39 430.70)" stroke="#fff">)</text></g><line x1="717.3" y1="440.7" x2="729.5" y2="411.4" stroke="#1e1e1e" stroke-width="1.9"/><path d="M43.6,-1.5 Q33.05,13.7 43.4,28.7 M89.1,-1.5 Q99.45,14.2 89.8,28.8" fill="none" stroke="#1e1e1e" stroke-width="2.3"/>
</svg>
</body></html>
